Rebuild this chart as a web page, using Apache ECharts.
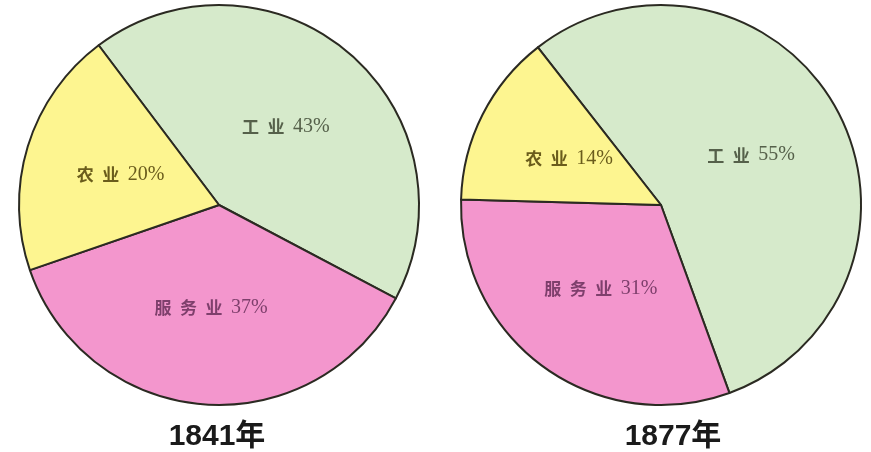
<!DOCTYPE html>
<html>
<head>
<meta charset="utf-8">
<script src="https://cdn.jsdelivr.net/npm/echarts@6/dist/echarts.min.js"></script>
<style>
  html, body { margin: 0; padding: 0; background: #fff; }
  #chart { width: 871px; height: 452px; }
</style>
</head>
<body>
<div id="chart"></div>
<script>
// 产业名称
var sectors = ['工业', '服务业', '农业']
// 各年份占比（%）
var years = ['1841年', '1877年']
var share1841 = [43, 37, 20]
var share1877 = [55, 31, 14]

var fillColors = ['#d6eacb', '#f396cd', '#fdf590']
var textColors = ['#55604a', '#7e3f6c', '#6a5c1c']

var myChart = echarts.init(document.getElementById('chart'))

function buildData(values) {
  return sectors.map(function (name, i) {
    return {
      name: name,
      value: values[i],
      itemStyle: { color: fillColors[i] },
      label: { color: textColors[i] },
    }
  })
}

// 字间留空，贴近原图的排版
function spaced(p) {
  return '{n|' + p.name.split('').join('\u2002') + '\u2002}{v|' + p.value + '%}'
}

function pieSeries(values, center, startAngle) {
  return {
    type: 'pie',
    center: center,
    radius: 200,
    startAngle: startAngle,
    clockwise: true,
    silent: true,
    animation: false,
    itemStyle: {
      borderColor: '#2b2a22',
      borderWidth: 2,
    },
    label: {
      show: true,
      position: 'inside',
      formatter: spaced,
      rich: {
        n: { fontSize: 17, fontFamily: 'Noto Sans CJK SC', fontWeight: 'bold' },
        v: { fontSize: 20, fontFamily: 'Liberation Serif' },
      },
    },
    labelLine: { show: false },
    data: buildData(values),
  }
}

var option = {
  backgroundColor: '#fff',
  title: [
    {
      text: years[0],
      left: 212,
      top: 417,
      textAlign: 'center',
      textStyle: { fontSize: 30, fontWeight: 'bold', color: '#1a1a1a', fontFamily: 'Liberation Sans, Noto Sans CJK SC' },
    },
    {
      text: years[1],
      left: 668,
      top: 417,
      textAlign: 'center',
      textStyle: { fontSize: 30, fontWeight: 'bold', color: '#1a1a1a', fontFamily: 'Liberation Sans, Noto Sans CJK SC' },
    },
  ],
  series: [
    pieSeries(share1841, [219, 205], 127),
    pieSeries(share1877, [661, 205], 128),
  ],
}

myChart.setOption(option)
</script>
</body>
</html>
